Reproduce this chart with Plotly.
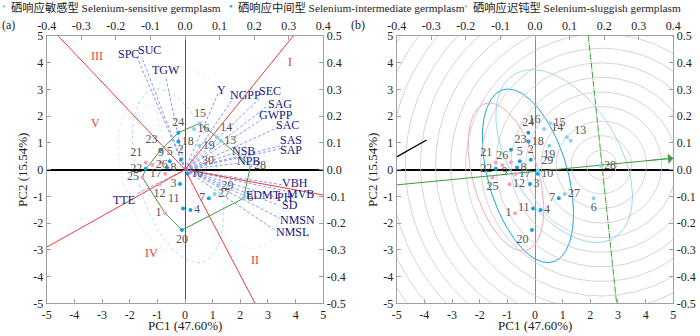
import numpy as np
import plotly.graph_objects as go

# ---------------- data ----------------
geno_id = list(range(1, 30))
geno_pc1 = [-0.72, -0.15, -0.18, 0.20, -0.55, 2.12, 0.86, -0.65, -0.87, 0.10,
            -0.07, -0.92, 1.29, 1.15, 0.54, 0.33, -0.71, -0.24, 0.52, -0.11,
            -1.42, -1.42, -0.87, -0.24, -1.54, -1.18, 1.07, 2.37, 1.19]
geno_pc2 = [-1.63, 0.37, -0.54, -1.51, 0.31, -1.07, -1.07, 0.08, 0.28, -0.15,
            -1.45, -0.55, 1.08, 1.21, 1.74, 1.52, -0.15, 1.05, 0.89, -2.26,
            0.27, 0.03, 0.74, 1.38, -0.29, 0.17, -0.91, 0.15, -0.60]
geno_group = ['sl', 'in', 'in', 'in', 'in', 'se', 'in', 'in', 'sl', 'in',
              'in', 'sl', 'se', 'se', 'se', 'se', 'sl', 'in', 'se', 'in',
              'sl', 'in', 'in', 'in', 'sl', 'sl', 'se', 'se', 'se']
# genotype 29 sits by the origin in panel (b)
geno29_b = (0.10, -0.03)
extra_label_a = ('30', 0.84, 0.36)

trait_names = ['SPC', 'SUC', 'TGW', 'Y', 'NGPP', 'SEC', 'SAG', 'GWPP', 'SAC', 'SAS', 'SAP',
               'NSB', 'NPB', 'VBH', 'MVB', 'EDMT', 'PH', 'SD', 'NMSN', 'NMSL', 'TTE']
trait_pc1 = [-1.75, -1.57, -0.70, 1.20, 1.74, 2.71, 2.95, 2.83, 3.43, 3.55, 3.55,
             1.74, 1.92, 3.55, 3.73, 2.23, 3.43, 3.36, 3.43, 3.25, -1.75]
trait_pc2 = [4.25, 4.23, 3.50, 2.86, 2.67, 2.67, 2.36, 1.92, 1.61, 0.92, 0.81,
             0.61, 0.24, -0.57, -0.82, -1.01, -1.07, -1.32, -1.82, -2.26, -0.91]

hull_ids = [15, 28, 6, 20, 1, 25, 22, 23, 24]
sector_end_pc1 = [3.91, 5.0, 2.53, -5.0, -4.58]
sector_end_pc2 = [5.0, -0.95, -5.0, -2.9, 5.0]
sector_names = ['I', 'II', 'III', 'IV', 'V']
sector_label_pc1 = [3.79, 2.53, -3.19, -1.21, -3.22]
sector_label_pc2 = [4.04, -3.38, 4.25, -3.13, 1.73]

ideal_pc1, ideal_pc2 = 2.40, 0.18
ring_step = 0.545
n_rings = 17
aea_pc1 = [-5.0, 5.0]
aea_pc2 = [-0.57, 0.43]
aec_pc1 = [1.93, 2.95]
aec_pc2 = [5.0, -5.0]
seg_pc1 = [-5.0, -3.92]
seg_pc2 = [0.48, 1.11]

main_ticks = [-5, -4, -3, -2, -1, 0, 1, 2, 3, 4, 5]
top_ticks = [-0.4, -0.3, -0.2, -0.1, 0.0, 0.1, 0.2, 0.3, 0.4]
right_ticks = [-0.5, -0.4, -0.3, -0.2, -0.1, 0.0, 0.1, 0.2, 0.3, 0.4, 0.5]

groups = ['se', 'in', 'sl']
group_label = {'se': '硒响应敏感型 Selenium-sensitive germplasm',
               'in': '硒响应中间型 Selenium-intermediate germplasm',
               'sl': '硒响应迟钝型 Selenium-sluggish germplasm'}
ellipse_k = {'se': 3.15, 'in': 3.0, 'sl': 4.1}

# ---------------- style ----------------
SERIF = 'Liberation Serif, Noto Sans CJK SC, serif'
col_pt = {'se': '#8ccff2', 'in': '#159fe3', 'sl': '#f2a2ba'}
col_el = {'se': '#9ad7f4', 'in': '#1ba3e3', 'sl': '#f1a7bd'}
TXT = '#555555'
NAVY = '#16167e'
RED = '#f03a3a'
GREEN = '#3d9c3d'

pos_a = ['middle left', 'top center', 'middle left', 'middle right', 'top center', 'middle right',
         'middle left', 'middle right', 'top center', 'middle right', 'top left', 'bottom center',
         'middle right', 'top right', 'top center', 'middle right', 'middle left', 'middle right',
         'middle right', 'bottom center', 'top left', 'middle left', 'top left', 'top center',
         'middle left', 'middle right', 'middle right', 'middle right', 'middle right']
pos_b = ['middle left', 'top center', 'middle right', 'middle right', 'top center', 'bottom center',
         'middle left', 'middle right', 'bottom left', 'middle right', 'middle left', 'middle right',
         'top right', 'top left', 'middle right', 'top left', 'middle right', 'middle right',
         'bottom center', 'bottom left', 'top left', 'middle left', 'top right', 'top center',
         'bottom center', 'top center', 'middle right', 'middle right', 'top right']
trait_shift = [(-8, 2), (8, 7), (0, 6), (3, 3), (12, 3), (10, 7), (13, 3), (13, 3), (8, 2), (8, 5),
               (8, -2), (10, 2), (10, 2), (12, 2), (12, -2), (17, 2), (5, 1), (12, 0), (18, -2),
               (18, -2), (-13, -6)]


def ellipse(xs, ys, k, n=200):
    xs = np.asarray(xs); ys = np.asarray(ys)
    cov = np.cov(np.vstack([xs, ys]))
    vals, vecs = np.linalg.eigh(cov)
    t = np.linspace(0, 2 * np.pi, n)
    circ = np.vstack([np.cos(t), np.sin(t)]) * np.sqrt(vals)[:, None] * k
    pts = vecs @ circ
    return xs.mean() + pts[0], ys.mean() + pts[1]


fig = go.Figure()

for panel, (xa, ya) in enumerate([('x', 'y'), ('x2', 'y2')]):
    px1 = list(geno_pc1); px2 = list(geno_pc2)
    if panel == 1:
        px1[28], px2[28] = geno29_b
    # ellipses
    for g in groups:
        gx = [a for a, gg in zip(px1, geno_group) if gg == g]
        gy = [b for b, gg in zip(px2, geno_group) if gg == g]
        ex, ey = ellipse(gx, gy, ellipse_k[g])
        fig.add_trace(go.Scatter(x=ex, y=ey, mode='lines', xaxis=xa, yaxis=ya,
                                 line=dict(color=col_el[g], width=1 if panel else 0.8,
                                           dash='solid' if panel else 'dot'),
                                 opacity=1.0 if panel else 0.45, showlegend=False, hoverinfo='skip'))
    if panel == 0:
        # trait vectors
        for nm, tx, ty in zip(trait_names, trait_pc1, trait_pc2):
            fig.add_trace(go.Scatter(x=[0, tx], y=[0, ty], mode='lines', xaxis=xa, yaxis=ya,
                                     line=dict(color='#8a98f2', width=1, dash='3px,2px'),
                                     showlegend=False, hoverinfo='skip'))
        # sector rays
        for ex_, ey_ in zip(sector_end_pc1, sector_end_pc2):
            fig.add_trace(go.Scatter(x=[0, ex_], y=[0, ey_], mode='lines', xaxis=xa, yaxis=ya,
                                     line=dict(color=RED, width=1), showlegend=False, hoverinfo='skip'))
        # hull polygon
        hx = [geno_pc1[i - 1] for i in hull_ids] + [geno_pc1[hull_ids[0] - 1]]
        hy = [geno_pc2[i - 1] for i in hull_ids] + [geno_pc2[hull_ids[0] - 1]]
        fig.add_trace(go.Scatter(x=hx, y=hy, mode='lines', xaxis=xa, yaxis=ya,
                                 line=dict(color=GREEN, width=1), showlegend=False, hoverinfo='skip'))
    else:
        # concentric rings around the ideal genotype
        t = np.linspace(0, 2 * np.pi, 300)
        for r in range(1, n_rings + 1):
            rr = r * ring_step
            fig.add_trace(go.Scatter(x=ideal_pc1 + rr * np.cos(t), y=ideal_pc2 + rr * np.sin(t),
                                     mode='lines', xaxis=xa, yaxis=ya,
                                     line=dict(color='#c9c9c9', width=0.8),
                                     showlegend=False, hoverinfo='skip'))
        fig.add_trace(go.Scatter(x=aea_pc1, y=aea_pc2, mode='lines', xaxis=xa, yaxis=ya,
                                 line=dict(color=GREEN, width=1), showlegend=False, hoverinfo='skip'))
        fig.add_trace(go.Scatter(x=aec_pc1, y=aec_pc2, mode='lines', xaxis=xa, yaxis=ya,
                                 line=dict(color=GREEN, width=1, dash='6px,1px,1px,1px'),
                                 showlegend=False, hoverinfo='skip'))
        fig.add_trace(go.Scatter(x=seg_pc1, y=seg_pc2, mode='lines', xaxis=xa, yaxis=ya,
                                 line=dict(color='black', width=1.3), showlegend=False, hoverinfo='skip'))
        fig.add_annotation(x=aea_pc1[1], y=aea_pc2[1], ax=aea_pc1[1] - 1.0,
                           ay=aea_pc2[1] - (aea_pc2[1] - aea_pc2[0]) / 10.0,
                           xref=xa, yref=ya, axref=xa, ayref=ya, text='', showarrow=True,
                           arrowhead=1, arrowsize=2.2, arrowwidth=0.8, arrowcolor=GREEN)
    # genotype points
    pos = pos_a if panel == 0 else pos_b
    fig.add_trace(go.Scatter(x=px1, y=px2, mode='markers+text', xaxis=xa, yaxis=ya,
                             text=[str(i) for i in geno_id], textposition=pos,
                             textfont=dict(family=SERIF, size=12, color=TXT),
                             marker=dict(size=4, color=[col_pt[g] for g in geno_group]),
                             showlegend=False, hoverinfo='skip', cliponaxis=True))

# panel (a) extra label and trait labels
fig.add_annotation(x=extra_label_a[1], y=extra_label_a[2], xref='x', yref='y', text=extra_label_a[0],
                   showarrow=False, xanchor='center', yanchor='middle',
                   font=dict(family=SERIF, size=12, color=TXT))
for nm, tx, ty, (sx, sy) in zip(trait_names, trait_pc1, trait_pc2, trait_shift):
    fig.add_annotation(x=tx, y=ty, xref='x', yref='y', text=nm, showarrow=False,
                       xanchor='center', yanchor='middle',
                       xshift=sx, yshift=sy, font=dict(family=SERIF, size=12, color=NAVY))
for nm, sx, sy in zip(sector_names, sector_label_pc1, sector_label_pc2):
    fig.add_annotation(x=sx, y=sy, xref='x', yref='y', text=nm, showarrow=False,
                       xanchor='center', yanchor='middle',
                       font=dict(family=SERIF, size=12, color=RED))

# dummy traces for secondary axes
for xa, ya in [('x3', 'y3'), ('x4', 'y4')]:
    fig.add_trace(go.Scatter(x=[None], y=[None], xaxis=xa, yaxis=ya, showlegend=False, hoverinfo='skip'))


def ax(**kw):
    base = dict(showline=True, linecolor='#a0a0a0', linewidth=1, ticks='inside', ticklen=4,
                tickcolor='#a0a0a0', showgrid=False, zeroline=False, fixedrange=True,
                automargin=False, tickfont=dict(family=SERIF, size=12, color='#222'))
    base.update(kw)
    return base


XD_A = [46.7 / 700, 323.3 / 700]
XD_B = [396.7 / 700, 673.3 / 700]
YD = [(336 - 303.3) / 336, (336 - 36) / 336]

mt = dict(tickvals=main_ticks, ticktext=[str(v) for v in main_ticks])
tt = dict(tickvals=top_ticks, ticktext=[f'{v:.1f}' for v in top_ticks])
rt = dict(tickvals=right_ticks, ticktext=[f'{v:.1f}' for v in right_ticks])

fig.update_layout(
    width=700, height=336, margin=dict(l=0, r=0, t=0, b=0, pad=0, autoexpand=False),
    plot_bgcolor='white', paper_bgcolor='white', showlegend=False,
    xaxis=ax(domain=XD_A, range=[-5, 5], anchor='y', zeroline=True, zerolinecolor='#555',
             zerolinewidth=1, **mt),
    yaxis=ax(domain=YD, range=[-5, 5], anchor='x', zeroline=True, zerolinecolor='black',
             zerolinewidth=1.5, **mt),
    xaxis3=ax(overlaying='x', side='top', anchor='y', range=[-0.4, 0.4], **tt),
    yaxis3=ax(overlaying='y', side='right', anchor='x', range=[-0.5, 0.5], **rt),
    xaxis2=ax(domain=XD_B, range=[-5, 5], anchor='y2', zeroline=True, zerolinecolor='#8a8a8a',
              zerolinewidth=1, **mt),
    yaxis2=ax(domain=YD, range=[-5, 5], anchor='x2', zeroline=True, zerolinecolor='black',
              zerolinewidth=1.5, **mt),
    xaxis4=ax(overlaying='x2', side='top', anchor='y2', range=[-0.4, 0.4], **tt),
    yaxis4=ax(overlaying='y2', side='right', anchor='x2', range=[-0.5, 0.5], **rt),
)

# axis titles, panel tags and legend as text
for x0 in [0, 350]:
    fig.add_annotation(x=(x0 + 185) / 700, y=(336 - 325) / 336, xref='paper', yref='paper',
                       text='PC1 (47.60%)', showarrow=False, xanchor='center', yanchor='middle',
                       font=dict(family=SERIF, size=13, color='#222'))
    fig.add_annotation(x=(x0 + 22) / 700, y=(336 - 170) / 336, xref='paper', yref='paper',
                       text='PC2 (15.54%)', showarrow=False, textangle=-90,
                       xanchor='center', yanchor='middle',
                       font=dict(family=SERIF, size=13, color='#222'))
fig.add_annotation(x=8 / 700, y=(336 - 25) / 336, xref='paper', yref='paper', text='(a)',
                   showarrow=False, xanchor='center', yanchor='middle',
                   font=dict(family=SERIF, size=12, color='#222'))
fig.add_annotation(x=358 / 700, y=(336 - 25) / 336, xref='paper', yref='paper', text='(b)',
                   showarrow=False, xanchor='center', yanchor='middle',
                   font=dict(family=SERIF, size=12, color='#222'))
leg_dot_x = [4, 231, 466]
for g, lx in zip(groups, leg_dot_x):
    fig.add_annotation(x=lx / 700, y=(336 - 6) / 336, xref='paper', yref='paper',
                       text='•', showarrow=False, xanchor='center', yanchor='middle',
                       font=dict(family=SERIF, size=11, color=col_pt[g]))
    fig.add_annotation(x=(lx + 5) / 700, y=(336 - 7) / 336, xref='paper', yref='paper',
                       xanchor='left', yanchor='middle',
                       text=group_label[g], showarrow=False,
                       font=dict(family=SERIF, size=11.3, color='#222'))

fig.write_html('out.html')
